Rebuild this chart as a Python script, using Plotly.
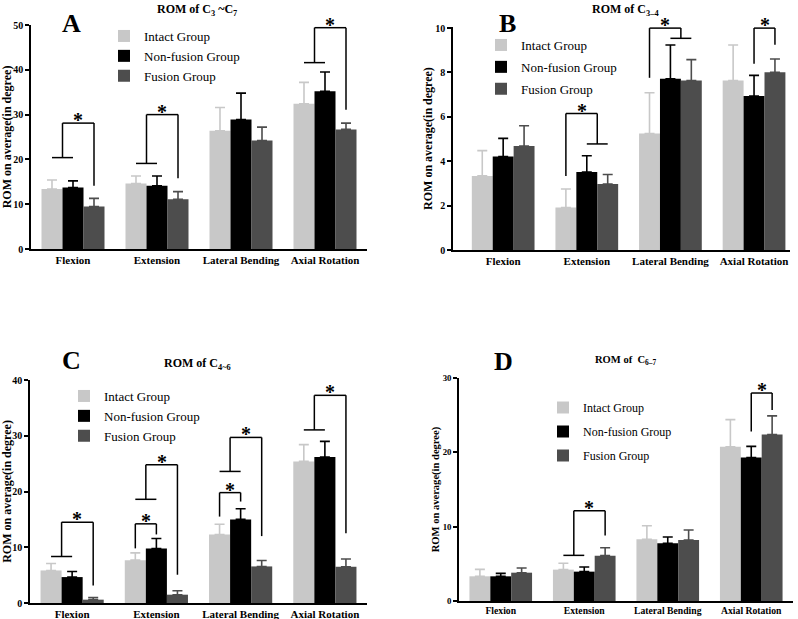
import plotly.graph_objects as go

# movement categories
categories = ["Flexion", "Extension", "Lateral Bending", "Axial Rotation"]
groups = ["Intact Group", "Non-fusion Group", "Fusion Group"]
group_colors = ["#c8c8c8", "#000000", "#4d4d4d"]

# panel A : C3~C7
intact_A = [13.4, 14.6, 26.4, 32.4]
intact_A_sd = [2.0, 1.7, 5.2, 4.8]
nonfusion_A = [13.7, 14.1, 28.9, 35.2]
nonfusion_A_sd = [1.5, 2.2, 5.9, 4.3]
fusion_A = [9.5, 11.1, 24.2, 26.7]
fusion_A_sd = [1.8, 1.7, 3.0, 1.4]

# panel B : C3-4
intact_B = [3.34, 1.91, 5.25, 7.64]
intact_B_sd = [1.14, 0.84, 1.84, 1.60]
nonfusion_B = [4.21, 3.51, 7.72, 6.94]
nonfusion_B_sd = [0.82, 0.74, 1.52, 0.93]
fusion_B = [4.69, 2.97, 7.64, 8.01]
fusion_B_sd = [0.91, 0.43, 0.94, 0.60]

# panel C : C4-6
intact_C = [5.84, 7.69, 12.28, 25.4]
intact_C_sd = [1.25, 1.31, 1.85, 3.0]
nonfusion_C = [4.65, 9.77, 15.0, 26.2]
nonfusion_C_sd = [1.0, 1.8, 1.9, 2.8]
fusion_C = [0.6, 1.49, 6.56, 6.5]
fusion_C_sd = [0.4, 0.7, 1.07, 1.4]

# panel D : C6-7
intact_D = [3.32, 4.22, 8.3, 20.76]
intact_D_sd = [0.94, 0.85, 1.83, 3.64]
nonfusion_D = [3.32, 3.95, 7.76, 19.3]
nonfusion_D_sd = [0.4, 0.62, 0.84, 1.5]
fusion_D = [3.81, 6.1, 8.2, 22.4]
fusion_D_sd = [0.63, 1.07, 1.35, 2.5]

# significance brackets: (category, left bars, right bars, left end, top, right end)
brackets_A = [(0, [0, 1], [2], 20.4, 28.1, 14.1),
              (1, [0, 1], [2], 19.1, 30.0, 15.8),
              (3, [0, 1], [2], 41.6, 49.4, 31.1)]
brackets_B = [(1, [0], [1, 2], 3.34, 6.15, 4.78),
              (2, [0], [1, 2], 7.76, 10.0, 9.54),
              (3, [1], [2], 8.39, 10.0, 9.25)]
brackets_C = [(0, [0, 1], [2], 8.34, 14.5, 3.16),
              (1, [0], [1], 9.8, 14.2, 12.3),
              (1, [0, 1], [2], 18.6, 24.8, 5.07),
              (2, [0], [1], 15.5, 19.8, 18.2),
              (2, [0, 1], [2], 23.6, 29.7, 12.0),
              (3, [0, 1], [2], 31.05, 37.25, 12.5)]
brackets_D = [(1, [0, 1], [2], 6.14, 12.15, 8.8),
              (3, [1], [2], 22.8, 27.98, 25.7)]

panels = [
    dict(letter="A", title="ROM of C<sub>3</sub> ~C<sub>7</sub>",
         means=[intact_A, nonfusion_A, fusion_A], sds=[intact_A_sd, nonfusion_A_sd, fusion_A_sd],
         brackets=brackets_A, ymax=50, dtick=10, xrange=[-0.5, 3.5],
         xdom=[31, 367], ydom=[25, 249], title_pos=(197, 0), letter_pos=(71, 23),
         legend_pos=(104, 21), legend_font=13, legend_gap=0, standoff=6, font_scale=1.0),
    dict(letter="B", title="ROM of C<sub>3\u20134</sub>",
         means=[intact_B, nonfusion_B, fusion_B], sds=[intact_B_sd, nonfusion_B_sd, fusion_B_sd],
         brackets=brackets_B, ymax=10.05, dtick=2, xrange=[-0.6, 3.43],
         xdom=[453, 790], ydom=[27, 250], title_pos=(625, 0), letter_pos=(507, 23),
         legend_pos=(481, 30), legend_font=13, legend_gap=2, standoff=0, font_scale=1.0),
    dict(letter="C", title="ROM of C<sub>4~6</sub>",
         means=[intact_C, nonfusion_C, fusion_C], sds=[intact_C_sd, nonfusion_C_sd, fusion_C_sd],
         brackets=brackets_C, ymax=40, dtick=10, xrange=[-0.5, 3.5],
         xdom=[30, 367], ydom=[380, 603], title_pos=(197, 354), letter_pos=(71, 360),
         legend_pos=(64, 381), legend_font=13, legend_gap=0, standoff=6, font_scale=1.0),
    dict(letter="D", title="ROM of  C<sub>6\u20137</sub>",
         means=[intact_D, nonfusion_D, fusion_D], sds=[intact_D_sd, nonfusion_D_sd, fusion_D_sd],
         brackets=brackets_D, ymax=30, dtick=10, xrange=[-0.5, 3.5],
         xdom=[459, 793], ydom=[378, 601], title_pos=(625, 352), letter_pos=(503, 361),
         legend_pos=(543, 393), legend_font=12, legend_gap=5, standoff=1, font_scale=0.88),
]

W, H = 798, 619
serif = "Liberation Serif"
fig = go.Figure()
layout = dict(width=W, height=H, margin=dict(l=0, r=0, t=0, b=0, autoexpand=False),
              paper_bgcolor="white", plot_bgcolor="white",
              barmode="group", bargap=0.25, bargroupgap=0,
              font=dict(family=serif, color="black"))
shapes = []
annotations = []
xpos = list(range(len(categories)))

for p_i, p in enumerate(panels):
    n = "" if p_i == 0 else str(p_i + 1)
    xa, ya = "x" + n, "y" + n
    leg = "legend" + n
    fs = p["font_scale"]
    for g_i in range(3):
        fig.add_trace(go.Bar(
            x=xpos, y=p["means"][g_i], name=groups[g_i],
            marker=dict(color=group_colors[g_i], line=dict(width=0)),
            error_y=dict(type="data", array=p["sds"][g_i], symmetric=False,
                         arrayminus=[0] * 4, color=group_colors[g_i],
                         thickness=1.6, width=5),
            xaxis=xa, yaxis=ya, legend=leg, legendgroup=leg + "_" + str(g_i),
            offsetgroup=str(g_i)))
    layout["xaxis" + n] = dict(
        domain=[p["xdom"][0] / W, p["xdom"][1] / W], anchor=ya, automargin=False,
        range=p["xrange"], tickvals=xpos, ticktext=categories,
        showline=True, linecolor="black", linewidth=1.5, ticks="",
        showgrid=False, zeroline=False,
        tickfont=dict(family=serif, size=11 * fs, color="black", weight="bold"))
    layout["yaxis" + n] = dict(
        domain=[1 - p["ydom"][1] / H, 1 - p["ydom"][0] / H], anchor=xa, automargin=False,
        range=[0, p["ymax"]], dtick=p["dtick"], tick0=0,
        showline=True, linecolor="black", linewidth=1.5,
        ticks="outside", ticklen=4, tickwidth=1.5, tickcolor="black",
        showgrid=False, zeroline=False,
        tickfont=dict(family=serif, size=10 * fs, color="black", weight="bold"),
        title=dict(text="ROM on average(in degree)", standoff=p["standoff"],
                   font=dict(family=serif, size=12 * fs, color="black", weight="bold")))
    layout[leg] = dict(
        x=p["legend_pos"][0] / W, y=1 - p["legend_pos"][1] / H,
        xanchor="left", yanchor="top", bgcolor="rgba(0,0,0,0)",
        font=dict(family=serif, size=p["legend_font"], color="black"),
        tracegroupgap=p["legend_gap"], itemwidth=30)
    annotations.append(dict(
        text=p["title"], x=p["title_pos"][0] / W, y=1 - p["title_pos"][1] / H,
        xref="paper", yref="paper", showarrow=False, xanchor="center", yanchor="top",
        font=dict(family=serif, size=12 * fs, color="black", weight="bold")))
    annotations.append(dict(
        text=p["letter"], x=p["letter_pos"][0] / W, y=1 - p["letter_pos"][1] / H,
        xref="paper", yref="paper", showarrow=False, xanchor="center", yanchor="middle",
        font=dict(family=serif, size=26, color="black", weight="bold")))

    # brackets and stars
    for cat, left, right, y_left, y_top, y_right in p["brackets"]:
        offs = [cat + (b - 1) * 0.25 for b in (0, 1, 2)]
        line = dict(color="black", width=1.5)
        ends = []
        for bars, y_end in ((left, y_left), (right, y_right)):
            xs = [offs[b] for b in bars]
            xm = sum(xs) / len(xs)
            if len(xs) > 1:
                shapes.append(dict(type="line", xref=xa, yref=ya, x0=xs[0], x1=xs[-1],
                                   y0=y_end, y1=y_end, line=line))
            shapes.append(dict(type="line", xref=xa, yref=ya, x0=xm, x1=xm,
                               y0=y_end, y1=y_top, line=line))
            ends.append(xm)
        shapes.append(dict(type="line", xref=xa, yref=ya, x0=ends[0], x1=ends[1],
                           y0=y_top, y1=y_top, line=line))
        annotations.append(dict(
            text="*", x=(ends[0] + ends[1]) / 2, y=y_top, xref=xa, yref=ya,
            showarrow=False, xanchor="center", yanchor="bottom", yshift=-10,
            font=dict(family=serif, size=20, color="black", weight="bold")))

layout["shapes"] = shapes
layout["annotations"] = annotations
fig.update_layout(**layout)
# page margin off so the figure sits at the window's top-left corner
fig.write_html("out.html", config={"displayModeBar": False},
               post_script="document.body.style.margin='0';")
